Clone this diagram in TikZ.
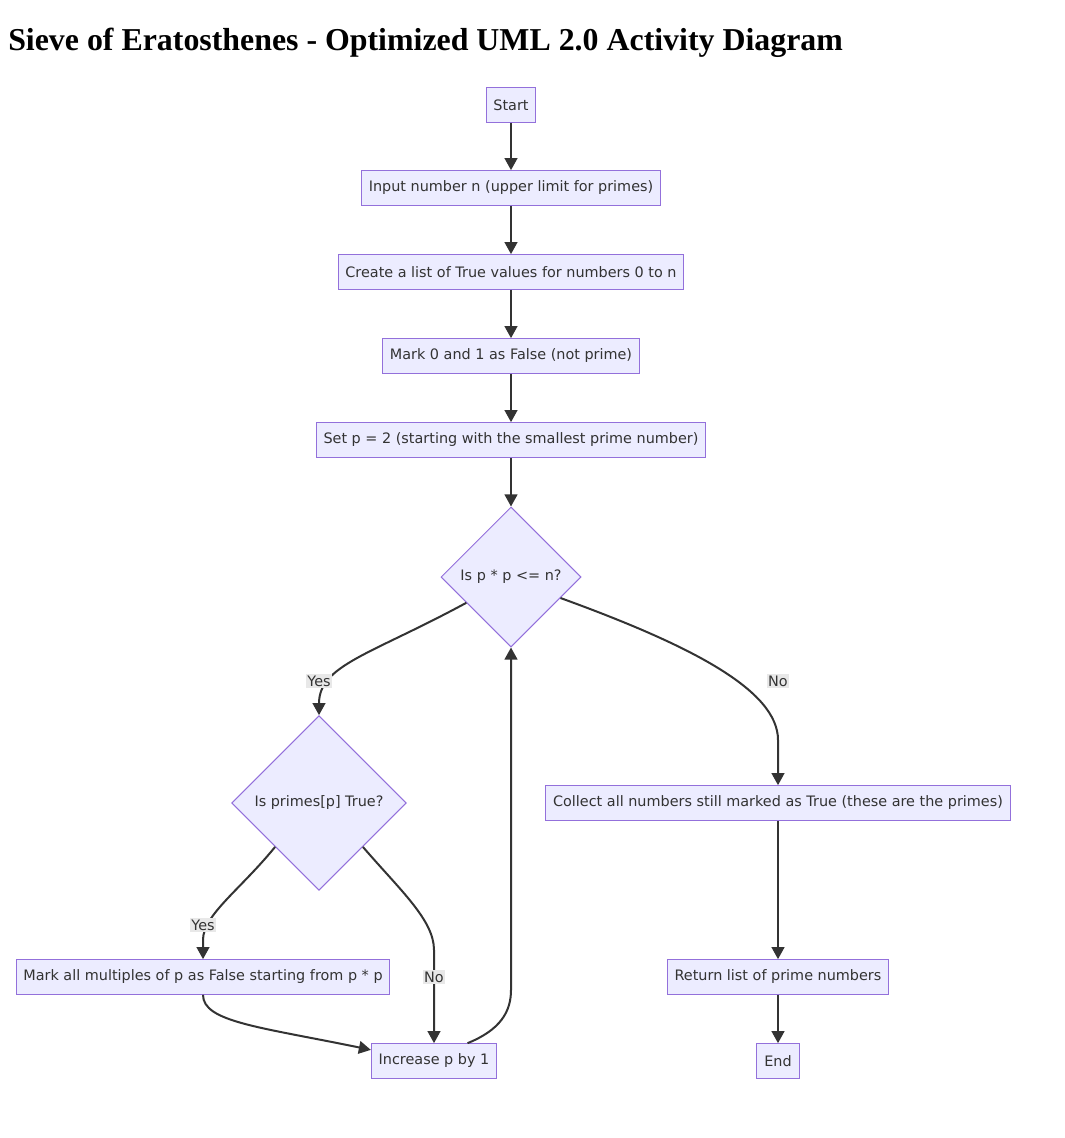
\documentclass[tikz,border=0pt]{standalone}
\usepackage{fontspec}
\setmainfont{Liberation Serif}
\newfontfamily\chartfont{DejaVu Sans}
\usetikzlibrary{shapes.geometric,arrows.meta}

\definecolor{boxfill}{HTML}{ECECFF}
\definecolor{boxline}{HTML}{9370DB}
\definecolor{flowline}{HTML}{333333}
\definecolor{labelbg}{HTML}{E8E8E8}

\tikzset{
  box/.style={rectangle, draw=boxline, fill=boxfill, line width=0.75pt, minimum height=26pt, inner xsep=5.5pt, text=flowline, font=\chartfont\fontsize{10.8}{12}\selectfont},
  decision/.style={diamond, draw=boxline, fill=boxfill, line width=0.75pt, inner sep=0pt, text=flowline, font=\chartfont\fontsize{10.8}{12}\selectfont},
  flow/.style={draw=flowline, line width=1.5pt, -{Triangle[length=9pt,width=9.5pt]}},
  lbl/.style={fill=labelbg, inner sep=1pt, text=flowline, font=\chartfont\fontsize{10.8}{12}\selectfont}
}

\begin{document}
\begin{tikzpicture}[x=0.75pt, y=-0.75pt]
    \useasboundingbox (0,0) rectangle (1064,1138);

    % Title
    \node[anchor=base west, inner sep=0pt, font=\bfseries\fontsize{23.9}{28}\selectfont] at (8, 51) (title) {Sieve of Eratosthenes - Optimized UML 2.0 Activity Diagram};

    % Nodes
    \node[box] at (511, 105)  (start)   {Start};
    \node[box] at (511, 188)  (input)   {Input number n (upper limit for primes)};
    \node[box] at (511, 272)  (create)  {Create a list of True values for numbers 0 to n};
    \node[box] at (511, 356)  (mark01)  {Mark 0 and 1 as False (not prime)};
    \node[box] at (511, 440)  (setp)    {Set p = 2 (starting with the smallest prime number)};
    \node[decision, minimum width=105pt, minimum height=105pt] at (511, 577)  (loop)    {Is p * p <= n?};
    \node[decision, minimum width=131pt, minimum height=131pt] at (319, 803)  (isprime) {Is primes[p] True?};
    \node[box] at (203, 977)  (multi)   {Mark all multiples of p as False starting from p * p};
    \node[box] at (434, 1061) (incp)    {Increase p by 1};
    \node[box] at (778, 803)  (collect) {Collect all numbers still marked as True (these are the primes)};
    \node[box] at (778, 977)  (ret)     {Return list of prime numbers};
    \node[box] at (778, 1061) (stop)    {End};

    \draw[flow] (start) -- (input);
    \draw[flow] (input) -- (create);
    \draw[flow] (create) -- (mark01);
    \draw[flow] (mark01) -- (setp);
    \draw[flow] (setp) -- (loop);

    \draw[flow] (loop.210) .. controls (370, 655) and (319, 665) .. (isprime.north);
    \draw[flow] (loop.-23) .. controls (690, 645) and (778, 690) .. (778, 740) -- (collect.north);

    \draw[flow] (isprime.south west) .. controls (240, 890) and (203, 915) .. (203, 940) -- (multi.north);
    \draw[flow] (isprime.south east) .. controls (400, 890) and (434, 920) .. (434, 950) -- (incp.north);

    \draw[flow] (multi.south) .. controls (203, 1022) and (260, 1027) .. (incp.170);
    \draw[flow] (incp.28) .. controls (500, 1030) and (511, 1012) .. (511, 990) -- (loop.south);

    \draw[flow] (collect) -- (ret);
    \draw[flow] (ret) -- (stop);

    % Edge labels
    \node[lbl] at (319, 681) (yes1) {Yes};
    \node[lbl] at (778, 681) (no1)  {No};
    \node[lbl] at (203, 925) (yes2) {Yes};
    \node[lbl] at (434, 977) (no2)  {No};
\end{tikzpicture}
\end{document}
